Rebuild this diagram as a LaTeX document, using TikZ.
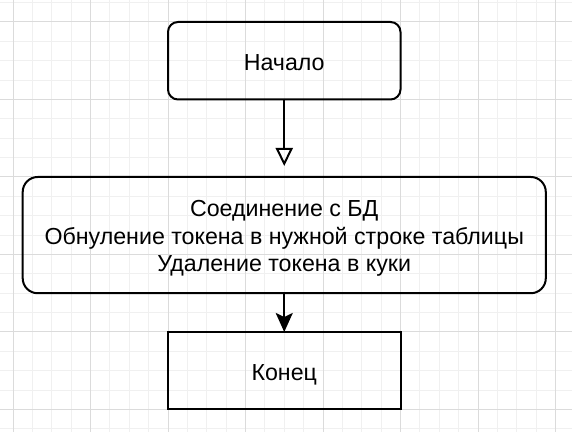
\documentclass[tikz,border=0pt]{standalone}
\usepackage{fontspec}
\setmainfont{Liberation Sans}
\usetikzlibrary{arrows.meta, positioning}

\begin{document}
\begin{tikzpicture}[
            x=19.375pt, y=19.375pt,
                base/.style = {rectangle, draw=black, line width=2pt, outer sep=0pt,
                            minimum width=232.5pt, minimum height=77.5pt, text
                            centered, text height=21pt, text depth=2pt,
                            font=\fontsize{23.2}{27.5}\selectfont},
                startstop/.style = {base, rounded corners=10pt},
                process/.style = {base, rounded corners=15pt, minimum width=523.1pt,
                            minimum height=116.25pt, text height=, text depth=, align=center},
                finish/.style = {base},
                openarrow/.style = {line width=2pt, -{Triangle[open, width=17pt, length=18pt]}, shorten >=11pt},
                solidarrow/.style = {line width=2pt, -{Stealth[width=17pt, length=19pt, inset=4pt]}},
                minorgrid/.style = {draw=gray!12, line width=1pt},
                majorgrid/.style = {draw=gray!28, line width=1pt}]
            \useasboundingbox (-0.671,-21.161) rectangle (28.852,1.135);
            \fill[white] (-0.671,-21.161) rectangle (28.852,1.135);
            % grid
            \draw[minorgrid, step=1] (-0.671,-21.161) grid (28.852,1.135);
            \draw[majorgrid, step=4] (-0.671,-21.161) grid (28.852,1.135);
            \node (Nachalo) [startstop] at (14,-2) {Начало};
            \node (SoedinenieBD) [process, below=77.5pt of Nachalo] {
                \rule{0pt}{23.2pt}Соединение с БД\\
                Обнуление токена в нужной строке таблицы\\
                Удаление токена в куки
            };
            \node (Konec) [finish, below=38.75pt of SoedinenieBD] {Конец};
            \draw[openarrow] (Nachalo) -- (SoedinenieBD);
            \draw[solidarrow] (SoedinenieBD) -- (Konec);
        \end{tikzpicture}
\end{document}
